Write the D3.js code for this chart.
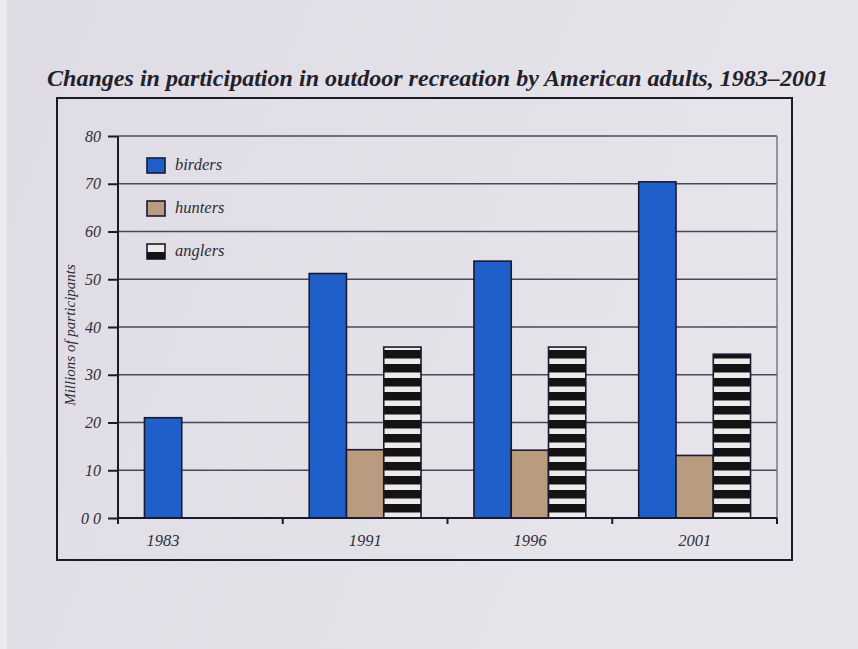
<!DOCTYPE html>
<html>
<head>
<meta charset="utf-8">
<script src="https://cdn.jsdelivr.net/npm/d3@7"></script>
<style>
  body { margin: 0; background: #e2dfe7; }
  svg { display: block; font-family: "Liberation Serif", "DejaVu Serif", serif; }
</style>
</head>
<body>
<script>
// Data (millions of participants)
const years = ["1983", "1991", "1996", "2001"];
const seriesNames = ["birders", "hunters", "anglers"];
const birders = [21, 51.2, 53.8, 70.4];
const hunters = [null, 14.3, 14.2, 13.1];
const anglers = [null, 35.8, 35.8, 34.3];
const yTicks = [0, 10, 20, 30, 40, 50, 60, 70, 80];

const values = { birders, hunters, anglers };

const width = 858, height = 649;
const plot = { left: 118, right: 777, top: 136, bottom: 518 };

const svg = d3.select('body').append('svg')
  .attr('width', width)
  .attr('height', height);

const defs = svg.append('defs');

// Background (slightly uneven like the photographed page)
const bg = defs.append('linearGradient').attr('id', 'bg')
  .attr('x1', 0).attr('y1', 0).attr('x2', 1).attr('y2', 0.3);
bg.append('stop').attr('offset', 0).attr('stop-color', '#dedbe4');
bg.append('stop').attr('offset', 1).attr('stop-color', '#e7e5eb');
svg.append('rect').attr('width', width).attr('height', height).attr('fill', 'url(#bg)');
svg.append('rect').attr('width', 7).attr('height', height).attr('fill', '#ecebef');

// Striped fill for anglers
const stripe = defs.append('pattern').attr('id', 'stripes')
  .attr('patternUnits', 'userSpaceOnUse')
  .attr('width', 10).attr('height', 14)
  .attr('y', plot.bottom % 14);
stripe.append('rect').attr('width', 10).attr('height', 14).attr('fill', '#ecebea');
stripe.append('rect').attr('width', 10).attr('height', 8.5).attr('fill', '#141214');

const colors = { birders: '#1f5fc9', hunters: '#b99b80', anglers: 'url(#stripes)' };
const ink = '#1b1a2c';

// Scales
const x0 = d3.scaleBand().domain(years).range([plot.left, plot.right]).padding(0);
const x1 = d3.scaleBand().domain(seriesNames).range([0, x0.bandwidth()])
  .paddingInner(0).paddingOuter(0.71);
const y = d3.scaleLinear().domain([0, 80]).range([plot.bottom, plot.top]);

// Title
svg.append('text')
  .attr('x', 47).attr('y', 86)
  .attr('font-size', 24).attr('font-style', 'italic').attr('font-weight', 'bold')
  .attr('fill', '#22212c')
  .attr('textLength', 781).attr('lengthAdjust', 'spacingAndGlyphs')
  .text('Changes in participation in outdoor recreation by American adults, 1983\u20132001');

// Outer frame
svg.append('rect')
  .attr('x', 57).attr('y', 98).attr('width', 735).attr('height', 462)
  .attr('fill', 'none').attr('stroke', ink).attr('stroke-width', 2);

// Gridlines
svg.append('g').selectAll('line').data(yTicks.filter(d => d > 0)).join('line')
  .attr('x1', plot.left).attr('x2', plot.right)
  .attr('y1', d => y(d)).attr('y2', d => y(d))
  .attr('stroke', '#4a4856').attr('stroke-width', 1.3);

// Right border of plot
svg.append('line')
  .attr('x1', plot.right).attr('x2', plot.right)
  .attr('y1', plot.top).attr('y2', plot.bottom)
  .attr('stroke', '#6a6878').attr('stroke-width', 1.3);

// Y axis
const yAxis = svg.append('g')
  .attr('transform', `translate(${plot.left},0)`)
  .call(d3.axisLeft(y).tickValues(yTicks).tickSize(10).tickPadding(7)
    .tickFormat(d => d === 0 ? '0 0' : d));
yAxis.select('.domain').attr('stroke', ink).attr('stroke-width', 2)
  .attr('d', `M0,${plot.top}V${plot.bottom + 4}`);
yAxis.selectAll('.tick line').attr('stroke', ink).attr('stroke-width', 2);
yAxis.selectAll('.tick text')
  .attr('font-family', '"Liberation Serif", serif')
  .attr('font-size', 16).attr('font-style', 'italic').attr('fill', '#2e2d38');

// Y axis title
svg.append('text')
  .attr('transform', 'translate(75,335) rotate(-90)')
  .attr('text-anchor', 'middle')
  .attr('font-size', 15).attr('font-style', 'italic').attr('fill', '#2e2d38')
  .text('Millions of participants');

// Bars
const rows = years.map((yr, i) => ({
  year: yr,
  bars: seriesNames.map(k => ({ key: k, value: values[k][i] })).filter(b => b.value != null)
}));

const groups = svg.append('g').selectAll('g').data(rows).join('g')
  .attr('transform', d => `translate(${x0(d.year)},0)`);

groups.selectAll('rect').data(d => d.bars).join('rect')
  .attr('x', d => x1(d.key))
  .attr('y', d => y(d.value))
  .attr('width', x1.bandwidth())
  .attr('height', d => y(0) - y(d.value))
  .attr('fill', d => colors[d.key])
  .attr('stroke', ink).attr('stroke-width', 1.6);

// X axis line and ticks
svg.append('line')
  .attr('x1', plot.left).attr('x2', plot.right)
  .attr('y1', plot.bottom).attr('y2', plot.bottom)
  .attr('stroke', ink).attr('stroke-width', 2);

const xTickPos = years.map(d => x0(d)).concat([plot.right]);
svg.append('g').selectAll('line').data(xTickPos).join('line')
  .attr('x1', d => d).attr('x2', d => d)
  .attr('y1', plot.bottom).attr('y2', plot.bottom + 6)
  .attr('stroke', ink).attr('stroke-width', 2);

// Year labels, centred under the bars that are drawn for each year
svg.append('g').selectAll('text').data(rows).join('text')
  .attr('x', d => {
    const first = d.bars[0], last = d.bars[d.bars.length - 1];
    return x0(d.year) + (x1(first.key) + x1(last.key) + x1.bandwidth()) / 2;
  })
  .attr('y', 546)
  .attr('text-anchor', 'middle')
  .attr('font-size', 16.5).attr('font-style', 'italic').attr('fill', '#2e2d38')
  .text(d => d.year);

// Legend
const legend = svg.append('g').attr('transform', 'translate(147,158)');
const items = legend.selectAll('g').data(seriesNames).join('g')
  .attr('transform', (d, i) => `translate(0,${i * 43})`);

items.append('rect')
  .attr('width', 18).attr('height', 15)
  .attr('fill', d => d === 'anglers' ? '#ecebea' : colors[d])
  .attr('stroke', ink).attr('stroke-width', 1.6);
items.filter(d => d === 'anglers').append('rect')
  .attr('y', 8).attr('width', 18).attr('height', 7).attr('fill', '#141214');

items.append('text')
  .attr('x', 28).attr('y', 12)
  .attr('font-size', 16.5).attr('font-style', 'italic').attr('fill', '#2e2d38')
  .text(d => d);
</script>
</body>
</html>
